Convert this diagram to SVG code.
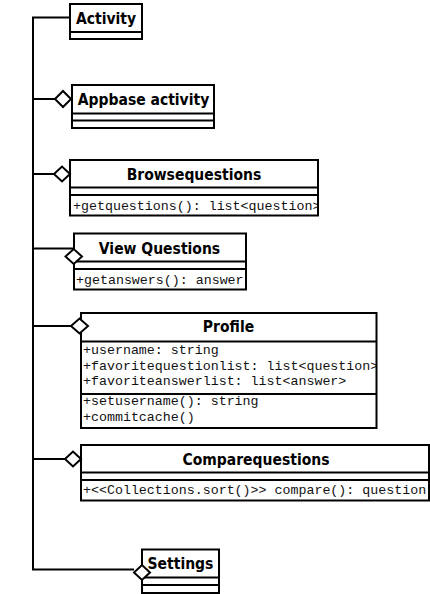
<svg xmlns="http://www.w3.org/2000/svg" width="430" height="594" viewBox="0 0 430 594">
<style>
.box{fill:#fff;stroke:#000;stroke-width:2}
.sep{stroke:#000;stroke-width:2}
.title{font-family:"DejaVu Sans Condensed","DejaVu Sans",Verdana,sans-serif;font-stretch:condensed;font-weight:bold;font-size:15.5px;text-anchor:middle;fill:#000}
.mem{font-family:"Liberation Mono","Courier New",monospace;font-size:13.3px;fill:#111}
.conn{fill:none;stroke:#000;stroke-width:2}
.dia{fill:#fff;stroke:#000;stroke-width:2}
</style>
<defs>
<clipPath id="cBrowse"><rect x="70" y="195" width="248" height="20"/></clipPath>
<clipPath id="cView"><rect x="74" y="269" width="172" height="20"/></clipPath>
<clipPath id="cProfile"><rect x="81" y="341" width="295" height="87"/></clipPath>
<clipPath id="cCompare"><rect x="81" y="480" width="348" height="20"/></clipPath>
</defs>
<g id="activity">
<rect class="box" x="70" y="4" width="72" height="35"/>
<line class="sep" x1="70" y1="32" x2="142" y2="32"/>
<text class="title" x="106" y="24">Activity</text>
</g>
<g id="appbase">
<rect class="box" x="72" y="85" width="142" height="43"/>
<line class="sep" x1="72" y1="113.5" x2="214" y2="113.5"/>
<line class="sep" x1="72" y1="120.5" x2="214" y2="120.5"/>
<text class="title" x="143.5" y="105">Appbase activity</text>
</g>
<g id="browsequestions">
<rect class="box" x="70" y="160" width="248" height="55.5"/>
<line class="sep" x1="70" y1="187.5" x2="318" y2="187.5"/>
<line class="sep" x1="70" y1="195" x2="318" y2="195"/>
<text class="title" x="194" y="180">Browsequestions</text>
<text class="mem" x="73" y="209.5" clip-path="url(#cBrowse)">+getquestions(): list&lt;question&gt;</text>
</g>
<g id="viewquestions">
<rect class="box" x="74" y="233.5" width="172" height="56"/>
<line class="sep" x1="74" y1="261.5" x2="246" y2="261.5"/>
<line class="sep" x1="74" y1="269" x2="246" y2="269"/>
<text class="title" x="159.5" y="254">View Questions</text>
<text class="mem" x="76" y="284" clip-path="url(#cView)">+getanswers(): answer</text>
</g>
<g id="profile">
<rect class="box" x="81" y="313" width="295.5" height="115"/>
<line class="sep" x1="81" y1="341.5" x2="376.5" y2="341.5"/>
<line class="sep" x1="81" y1="394" x2="376.5" y2="394"/>
<text class="title" x="228.5" y="332">Profile</text>
<g clip-path="url(#cProfile)">
<text class="mem" x="83" y="354">+username: string</text>
<text class="mem" x="83" y="369.5">+favoritequestionlist: list&lt;question&gt;</text>
<text class="mem" x="83" y="385">+favoriteanswerlist: list&lt;answer&gt;</text>
<text class="mem" x="83" y="405">+setusername(): string</text>
<text class="mem" x="83" y="420.5">+commitcache()</text>
</g>
</g>
<g id="comparequestions">
<rect class="box" x="81" y="445" width="348" height="55.5"/>
<line class="sep" x1="81" y1="472.5" x2="429" y2="472.5"/>
<line class="sep" x1="81" y1="480" x2="429" y2="480"/>
<text class="title" x="256" y="464.5">Comparequestions</text>
<text class="mem" x="83" y="494" clip-path="url(#cCompare)">+&lt;&lt;Collections.sort()&gt;&gt; compare(): question</text>
</g>
<g id="settings">
<rect class="box" x="142" y="549.5" width="77" height="43.5"/>
<line class="sep" x1="142" y1="577.5" x2="219" y2="577.5"/>
<line class="sep" x1="142" y1="585" x2="219" y2="585"/>
<text class="title" x="180.5" y="568.5">Settings</text>
</g>
<g id="connectors">
<path class="conn" d="M70,17.5 H33 V569.5 H134"/>
<path class="conn" d="M33,99 H55"/>
<path class="conn" d="M33,174 H54"/>
<path class="conn" d="M33,248.5 H74"/>
<path class="conn" d="M33,326 H71"/>
<path class="conn" d="M33,459 H65"/>
<polygon class="dia" points="55,99 63,91 71,99 63,107"/>
<polygon class="dia" points="54,174 62,166.5 70,174 62,181.5"/>
<polygon class="dia" points="65.5,256.5 73.7,249 82,256.5 73.7,264"/>
<polygon class="dia" points="71,326 79.5,318.5 88,326 79.5,333.5"/>
<polygon class="dia" points="65,459 73,451.5 81,459 73,466.5"/>
<polygon class="dia" points="134,572.5 142,565 150,572.5 142,580"/>
</g>
</svg>
